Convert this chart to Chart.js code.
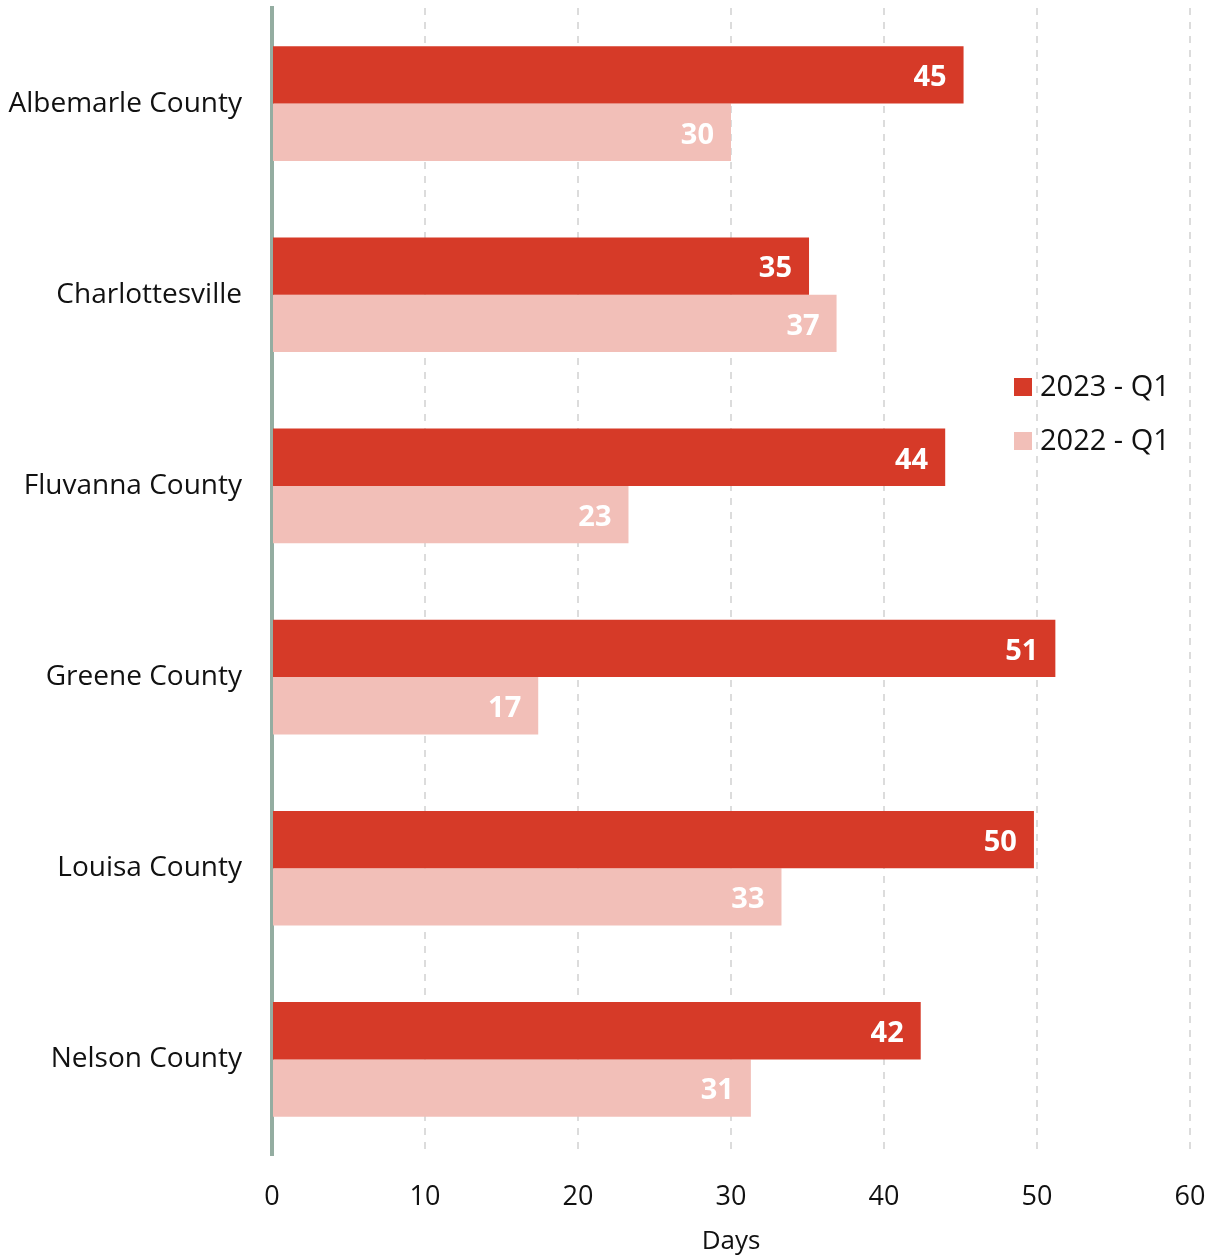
<!DOCTYPE html>
<html>
<head>
<meta charset="utf-8">
<script src="https://cdn.jsdelivr.net/npm/chart.js@4.4.0/dist/chart.umd.min.js"></script>
<style>
  html,body{margin:0;padding:0;background:#fff;}
  #wrap{width:1218px;height:1257px;position:relative;}
</style>
</head>
<body>
<div id="wrap"><canvas id="c"></canvas></div>
<script>
const categories = ["Albemarle County","Charlottesville","Fluvanna County","Greene County","Louisa County","Nelson County"];
const series2023 = [45.2, 35.1, 44.0, 51.2, 49.8, 42.4];
const series2022 = [30.0, 36.9, 23.3, 17.4, 33.3, 31.3];
const seriesNames = ["2023 - Q1","2022 - Q1"];
const xTicks = [0,10,20,30,40,50,60];

const RED = '#d63a28';
const PINK = '#f2bfb8';
const FONT = "'Open Sans', 'Noto Sans', sans-serif";

const valueLabels = {
  id:'valueLabels',
  afterDatasetsDraw(chart){
    const ctx = chart.ctx;
    ctx.save();
    ctx.font = "bold 29px " + FONT;
    ctx.fillStyle = '#fff';
    ctx.textAlign = 'right';
    ctx.textBaseline = 'middle';
    chart.data.datasets.forEach((ds, di) => {
      chart.getDatasetMeta(di).data.forEach((bar, i) => {
        ctx.fillText(String(Math.round(ds.data[i])), bar.x - 17, bar.y + 3);
      });
    });
    ctx.restore();
  }
};

const customLegend = {
  id:'customLegend',
  afterDraw(chart){
    const ctx = chart.ctx;
    const a = chart.chartArea;
    const x0 = a.right - 176;
    const yc = [a.top + 379, a.top + 433];
    ctx.save();
    ctx.font = "29px " + FONT;
    ctx.textBaseline = 'middle';
    ctx.textAlign = 'left';
    chart.data.datasets.forEach((ds, i) => {
      ctx.fillStyle = ds.backgroundColor;
      ctx.fillRect(x0, yc[i] - 9, 18, 18);
      ctx.fillStyle = '#111';
      ctx.fillText(ds.label, x0 + 26, yc[i] + 1);
    });
    ctx.restore();
  }
};

new Chart(document.getElementById('c'), {
  type: 'bar',
  data: {
    labels: categories,
    datasets: [
      {label: seriesNames[0], data: series2023, backgroundColor: RED, categoryPercentage: 0.6, barPercentage: 1.0},
      {label: seriesNames[1], data: series2022, backgroundColor: PINK, categoryPercentage: 0.6, barPercentage: 1.0}
    ]
  },
  options: {
    indexAxis: 'y',
    responsive: true,
    maintainAspectRatio: false,
    animation: false,
    layout: {padding: {top: 8, right: 28, left: 0, bottom: 0}},
    plugins: {legend: {display: false}, tooltip: {enabled: false}},
    scales: {
      x: {
        min: 0, max: 60,
        afterBuildTicks(s){ s.ticks = xTicks.map(v => ({value: v})); },
        afterFit(s){ s.height = 102; s.paddingRight = 0; s.paddingLeft = 0; },
        ticks: {font: {family: FONT, size: 27}, color: '#111', padding: 26},
        grid: {color: (c) => c.index === 0 ? 'rgba(0,0,0,0)' : '#dcdcdc', lineWidth: 2, drawTicks: false},
        border: {display: false, dash: [7, 7]},
        title: {display: true, text: 'Days', font: {family: FONT, size: 26}, color: '#111', padding: {top: 12, bottom: 0}}
      },
      y: {
        afterFit(s){ s.width = 272; s.paddingTop = 0; s.paddingBottom = 0; },
        ticks: {font: {family: FONT, size: 28}, color: '#111', padding: 30},
        grid: {display: false, drawTicks: false},
        border: {display: true, color: '#94ada1', width: 4}
      }
    }
  },
  plugins: [valueLabels, customLegend]
});
</script>
</body>
</html>
